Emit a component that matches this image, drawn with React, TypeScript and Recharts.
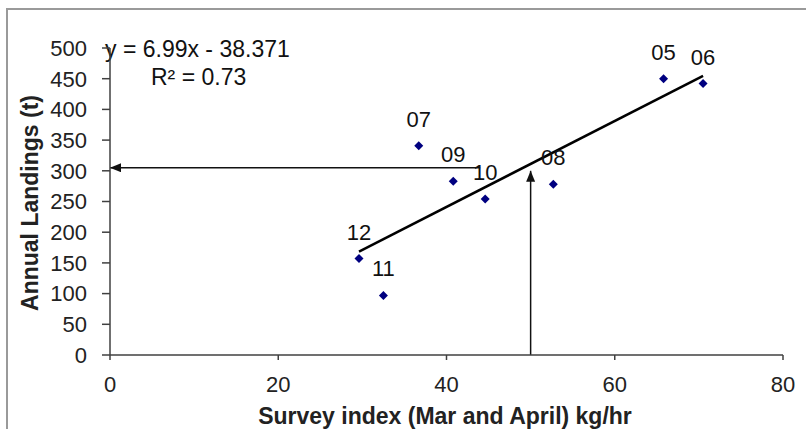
import React from "react"
import {
  ScatterChart,
  Scatter,
  XAxis,
  YAxis,
  ReferenceLine,
} from "recharts"

// survey index (kg/hr) vs annual landings (t), labelled by year
const years = ["05", "06", "07", "08", "09", "10", "11", "12"]
const surveyIndex = [65.8, 70.5, 36.7, 52.7, 40.8, 44.6, 32.5, 29.6]
const landings = [450, 442, 341, 278, 283, 254, 97, 157]

const xTicks = [0, 20, 40, 60, 80]
const yTicks = [0, 50, 100, 150, 200, 250, 300, 350, 400, 450, 500]

// fitted line as printed on the chart
const slope = 6.99
const intercept = -38.371

// read-off arrows
const readIndex = 50
const readLandings = 305
const arrowTipY = 300
const arrowStartX = 44

const font = "'Liberation Sans', Arial, sans-serif"

const data = years.map((year, i) => ({
  year,
  x: surveyIndex[i],
  y: landings[i],
}))

const xMin = Math.min(...surveyIndex)
const xMax = Math.max(...surveyIndex)

const Diamond = (props: any) => {
  const { cx, cy, payload } = props
  const r = 4.5
  return (
    <g>
      <polygon
        points={`${cx},${cy - r} ${cx + r},${cy} ${cx},${cy + r} ${cx - r},${cy}`}
        fill="#000080"
      />
      <text
        x={cx}
        y={cy - 19}
        textAnchor="middle"
        fontSize={22}
        fontFamily={font}
        fill="#111"
      >
        {payload.year}
      </text>
    </g>
  )
}

const Arrow = (props: any) => (
  <line
    x1={props.x1}
    y1={props.y1}
    x2={props.x2}
    y2={props.y2}
    stroke="#111"
    strokeWidth={1.5}
    markerEnd="url(#arrowHead)"
  />
)

const TrendLine = (props: any) => (
  <line
    x1={props.x1}
    y1={props.y1}
    x2={props.x2}
    y2={props.y2}
    stroke="#000"
    strokeWidth={2.5}
  />
)

export default function App() {
  return (
    <div
      style={{
        position: "absolute",
        left: 0,
        top: 0,
        width: 806,
        height: 429,
        background: "#fff",
        overflow: "hidden",
      }}
    >
      <div
        style={{
          position: "absolute",
          left: 6,
          top: 8,
          right: -10,
          bottom: -10,
          borderLeft: "2px solid #9a9a9a",
          borderTop: "2px solid #9a9a9a",
        }}
      />
      <ScatterChart
        width={806}
        height={429}
        margin={{ top: 48, right: 23, bottom: 44, left: 50 }}
        style={{ position: "absolute", left: 0, top: 0 }}
      >
        <defs>
          <marker
            id="arrowHead"
            markerUnits="userSpaceOnUse"
            markerWidth={12}
            markerHeight={10}
            refX={11}
            refY={4.5}
            orient="auto"
          >
            <path d="M0,0 L11,4.5 L0,9 z" fill="#111" />
          </marker>
        </defs>
        <XAxis
          type="number"
          dataKey="x"
          domain={[0, 80]}
          ticks={xTicks}
          interval={0}
          height={30}
          tickSize={5}
          tickMargin={16}
          stroke="#404040"
          strokeWidth={1.5}
          tick={{ fontSize: 22, fill: "#222", fontFamily: font }}
        />
        <YAxis
          type="number"
          dataKey="y"
          domain={[0, 500]}
          ticks={yTicks}
          interval={0}
          width={60}
          tickSize={8}
          tickMargin={15}
          stroke="#404040"
          strokeWidth={1.5}
          tick={{ fontSize: 22, fill: "#222", fontFamily: font }}
        />
        <ReferenceLine
          segment={[
            { x: xMin, y: slope * xMin + intercept },
            { x: xMax, y: slope * xMax + intercept },
          ]}
          shape={TrendLine}
        />
        <ReferenceLine
          segment={[
            { x: arrowStartX, y: readLandings },
            { x: 0, y: readLandings },
          ]}
          shape={Arrow}
        />
        <ReferenceLine
          segment={[
            { x: readIndex, y: 0 },
            { x: readIndex, y: arrowTipY },
          ]}
          shape={Arrow}
        />
        <Scatter data={data} shape={Diamond} isAnimationActive={false} />
        <text x={105} y={57} fontSize={23} fontFamily={font} fill="#111">
          y = 6.99x - 38.371
        </text>
        <text x={151} y={85} fontSize={23} fontFamily={font} fill="#111">
          R² = 0.73
        </text>
        <text
          x={445}
          y={424}
          textAnchor="middle"
          fontSize={23}
          fontWeight="bold"
          fontFamily={font}
          fill="#222"
        >
          Survey index (Mar and April) kg/hr
        </text>
        <text
          x={38}
          y={203}
          textAnchor="middle"
          fontSize={23}
          fontWeight="bold"
          fontFamily={font}
          fill="#222"
          transform="rotate(-90 38 203)"
        >
          Annual Landings (t)
        </text>
      </ScatterChart>
    </div>
  )
}
